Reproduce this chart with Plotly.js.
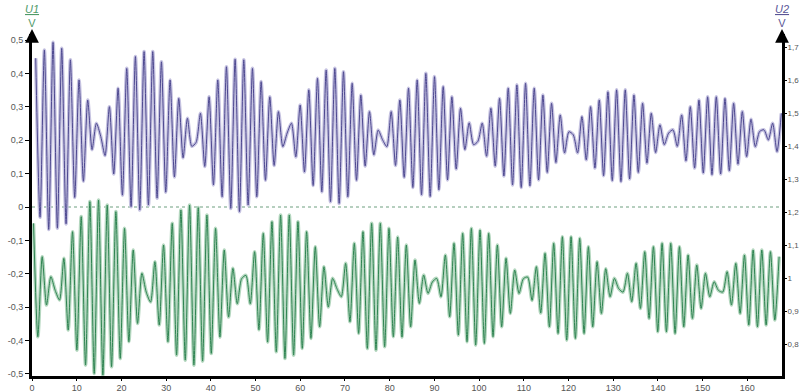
<!DOCTYPE html>
<html><head><meta charset="utf-8">
<script src="https://cdn.plot.ly/plotly-3.0.1.min.js"></script>
<style>html,body{margin:0;padding:0;background:#fff;} #chart{width:799px;height:392px;}</style>
</head><body><div id="chart"></div>
<script>
// Successive extrema (peak / trough) of each signal
const u2Values = [
1.667,1.185,1.692,1.148,1.715,1.152,1.697,1.165,1.662,1.245,
1.601,1.294,1.540,1.390,1.470,1.430,1.372,1.520,1.316,1.576,
1.252,1.636,1.217,1.672,1.207,1.687,1.222,1.687,1.243,1.656,
1.261,1.601,1.307,1.545,1.365,1.485,1.400,1.412,1.500,1.339,
1.550,1.283,1.601,1.247,1.641,1.212,1.664,1.202,1.662,1.222,
1.636,1.247,1.596,1.297,1.550,1.342,1.505,1.399,1.440,1.470,
1.368,1.525,1.322,1.571,1.281,1.606,1.262,1.631,1.232,1.636,
1.227,1.626,1.247,1.591,1.297,1.555,1.340,1.505,1.374,1.449,
1.420,1.399,1.505,1.342,1.540,1.306,1.576,1.275,1.601,1.253,
1.621,1.248,1.611,1.268,1.581,1.298,1.550,1.331,1.515,1.390,
1.471,1.405,1.415,1.470,1.370,1.515,1.340,1.545,1.310,1.576,
1.283,1.586,1.275,1.591,1.280,1.576,1.298,1.555,1.321,1.530,
1.351,1.495,1.380,1.444,1.435,1.380,1.490,1.359,1.520,1.334,
1.540,1.311,1.565,1.296,1.571,1.293,1.571,1.301,1.555,1.321,
1.530,1.349,1.500,1.381,1.465,1.405,1.440,1.450,1.400,1.495,
1.356,1.520,1.334,1.540,1.319,1.550,1.314,1.550,1.316,1.545,
1.326,1.530,1.346,1.505,1.369,1.482,1.399,1.445,1.450,1.419,
1.470,1.384,1.500
];
const u1Values = [
-0.049,-0.389,-0.149,-0.294,-0.209,-0.250,-0.279,-0.154,-0.369,-0.074,
-0.429,-0.029,-0.474,0.016,-0.499,0.021,-0.504,0.006,-0.479,-0.014,
-0.454,-0.064,-0.404,-0.129,-0.349,-0.199,-0.255,-0.285,-0.164,-0.354,
-0.114,-0.404,-0.049,-0.444,-0.009,-0.459,0.006,-0.474,-0.002,-0.462,
-0.024,-0.439,-0.064,-0.390,-0.129,-0.330,-0.184,-0.290,-0.215,-0.205,
-0.290,-0.134,-0.368,-0.079,-0.405,-0.044,-0.434,-0.024,-0.454,-0.024,
-0.444,-0.044,-0.424,-0.074,-0.394,-0.119,-0.359,-0.179,-0.300,-0.214,
-0.245,-0.269,-0.169,-0.344,-0.109,-0.379,-0.074,-0.424,-0.049,-0.429,
-0.049,-0.419,-0.064,-0.389,-0.090,-0.390,-0.114,-0.359,-0.159,-0.289,
-0.204,-0.259,-0.225,-0.214,-0.269,-0.144,-0.329,-0.109,-0.384,-0.079,
-0.404,-0.064,-0.414,-0.069,-0.409,-0.079,-0.389,-0.114,-0.359,-0.154,
-0.319,-0.189,-0.259,-0.215,-0.210,-0.280,-0.179,-0.318,-0.139,-0.359,
-0.109,-0.379,-0.089,-0.399,-0.089,-0.394,-0.094,-0.379,-0.119,-0.359,
-0.164,-0.319,-0.185,-0.269,-0.214,-0.245,-0.255,-0.199,-0.284,-0.169,
-0.304,-0.134,-0.334,-0.119,-0.374,-0.109,-0.374,-0.109,-0.379,-0.119,
-0.359,-0.144,-0.334,-0.174,-0.304,-0.199,-0.269,-0.224,-0.250,-0.255,
-0.194,-0.294,-0.169,-0.319,-0.144,-0.354,-0.129,-0.359,-0.129,-0.354,
-0.134,-0.339,-0.149
];
// sampling of the extrema in time (first extremum, half carrier period)
const u2Start = 0.83;
const u1Start = 0.34;
const halfPeriod = 0.9696;

const xTicks = [0,10,20,30,40,50,60,70,80,90,100,110,120,130,140,150,160];
const xTickText = ["0","10","20","30","40","50","60","70","80","90","100","110","120","130","140","150","160"];
const u1Ticks = [0.5,0.4,0.3,0.2,0.1,0,-0.1,-0.2,-0.3,-0.4,-0.5];
const u1TickText = ["0,5","0,4","0,3","0,2","0,1","0","-0,1","-0,2","-0,3","-0,4","-0,5"];
const u2Ticks = [1.7,1.6,1.5,1.4,1.3,1.2,1.1,1,0.9,0.8,0.7];
const u2TickText = ["1,7","1,6","1,5","1,4","1,3","1,2","1,1","1","0,9","0,8","0,7"];

const u1Time = u1Values.map((v, i) => +(u1Start + i * halfPeriod).toFixed(4));
const u2Time = u2Values.map((v, i) => +(u2Start + i * halfPeriod).toFixed(4));

const G_LIGHT = '#b4d7bf', G_DARK = '#2f8452';
const B_LIGHT = '#c6c3e1', B_DARK = '#4e4990';

const traces = [
  {x: u1Time, y: u1Values, yaxis: 'y', mode: 'lines', hoverinfo: 'skip',
   line: {color: G_LIGHT, width: 3.6, shape: 'spline', smoothing: 0.7}},
  {x: u1Time, y: u1Values, yaxis: 'y', mode: 'lines', name: 'U1',
   line: {color: G_DARK, width: 1, shape: 'spline', smoothing: 0.7}},
  {x: u2Time, y: u2Values, yaxis: 'y2', mode: 'lines', hoverinfo: 'skip',
   line: {color: B_LIGHT, width: 3.6, shape: 'spline', smoothing: 0.7}},
  {x: u2Time, y: u2Values, yaxis: 'y2', mode: 'lines', name: 'U2',
   line: {color: B_DARK, width: 1, shape: 'spline', smoothing: 0.7}}
];

const tickFont = {family: 'Liberation Sans, Arial, sans-serif', size: 9, color: '#555'};
const rightTickFont = {family: 'Liberation Sans Narrow, Liberation Sans, Arial, sans-serif', size: 8, color: '#555'};

const layout = {
  width: 799, height: 392,
  margin: {l: 32, r: 17, t: 34, b: 16, pad: 0},
  paper_bgcolor: '#ffffff', plot_bgcolor: '#ffffff',
  showlegend: false,
  font: {family: 'Liberation Sans, Arial, sans-serif', size: 9, color: '#555'},
  xaxis: {range: [0, 167.75], tickvals: xTicks, ticktext: xTickText, ticks: 'outside',
          ticklen: 2, tickcolor: '#000', showline: true, linecolor: '#000', linewidth: 2.5,
          showgrid: false, zeroline: false, tickfont: tickFont, fixedrange: true},
  yaxis: {range: [-0.5067, 0.5187], tickvals: u1Ticks, ticktext: u1TickText, ticks: 'outside',
          ticklen: 4, tickcolor: '#000', showline: true, linecolor: '#000', linewidth: 3,
          showgrid: false, zeroline: false, tickfont: tickFont, fixedrange: true},
  yaxis2: {overlaying: 'y', side: 'right', range: [0.7039, 1.7403], tickvals: u2Ticks,
           ticktext: u2TickText, ticks: 'outside', ticklen: 2, tickcolor: '#000',
           ticklabelstandoff: -1,
           showline: true, linecolor: '#000', linewidth: 3, showgrid: false,
           zeroline: false, tickfont: rightTickFont, fixedrange: true},
  shapes: [
    {type: 'line', xref: 'paper', x0: 0, x1: 1, yref: 'y', y0: 0, y1: 0,
     line: {color: '#6f9f80', width: 1.2, dash: 'dot'}, layer: 'below'}
  ],
  annotations: [
    {xref: 'paper', yref: 'paper', x: 0, y: 1, yshift: 5, ax: 0, ay: 12, text: '',
     showarrow: true, arrowhead: 2, arrowsize: 1.1, arrowwidth: 2.5, arrowcolor: '#000'},
    {xref: 'paper', yref: 'paper', x: 1, y: 1, yshift: 5, ax: 0, ay: 12, text: '',
     showarrow: true, arrowhead: 2, arrowsize: 1.1, arrowwidth: 2.5, arrowcolor: '#000'},
    {xref: 'paper', yref: 'paper', x: 0, y: 1, yshift: 3, xanchor: 'center', yanchor: 'bottom',
     showarrow: false, text: '<u><i>U1</i></u><br>V',
     font: {family: 'Liberation Sans, Arial, sans-serif', size: 11, color: '#4f9a68'}},
    {xref: 'paper', yref: 'paper', x: 1, y: 1, yshift: 3, xanchor: 'center', yanchor: 'bottom',
     showarrow: false, text: '<u><i>U2</i></u><br>V',
     font: {family: 'Liberation Sans, Arial, sans-serif', size: 11, color: '#5a5596'}}
  ]
};

Plotly.newPlot('chart', traces, layout, {staticPlot: true, displayModeBar: false});
</script>
</body></html>
